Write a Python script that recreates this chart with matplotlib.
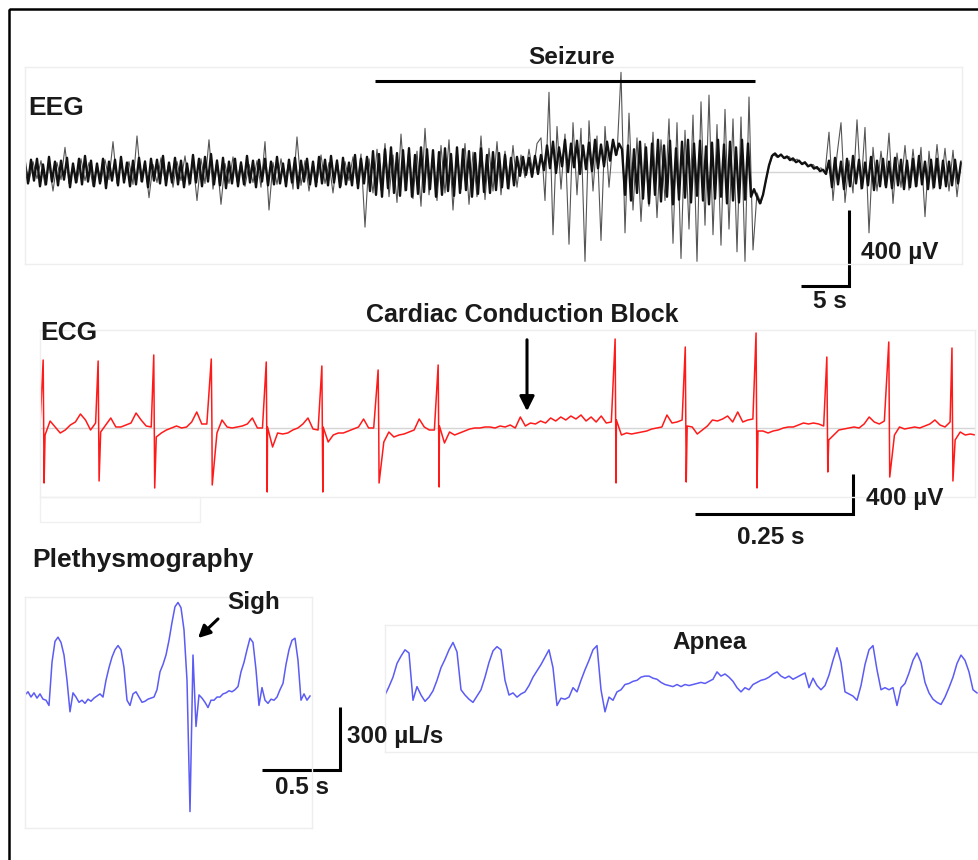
import numpy as np
import matplotlib.pyplot as plt
from matplotlib.patches import Rectangle

W, H = 979, 860
plt.rcParams['font.family'] = ['Liberation Sans', 'DejaVu Sans']

# ---- EEG, uV: large excursions, one vertex every 5/12 s ----
eeg_dt = 5 / 12
eeg_uv = [
    40, -50, 55, -35, 60, -70, 45, -100, 50, -40,
    130, -60, 35, -55, 70, -45, 50, -75, 40, -50,
    65, -40, 160, -60, 45, -35, 55, -65, 190, -50,
    60, -135, 40, -55, 75, -40, 50, -80, 55, -45,
    85, -70, 60, -150, 70, -60, 170, -90, 65, -170,
    45, -60, 80, -50, 55, -75, 40, -55, 60, -80,
    160, -200, 50, -65, 70, -45, 55, -90, 185, -70,
    60, -100, 45, -55, 90, -60, 50, -110, 65, -75,
    55, -45, 80, -60, 95, -290, 70,
    -110, 120, -95, 150, -130, 90, -160, 200, -100, 130,
    -140, 110, -180, 230, -120, 95, -150, 140, -110, 170,
    -200, 120, -90, 150, -170, 105, -130, 190, -145, 125,
    -100, 160, -120, 110, -90, 140, -80,
    90, -30, 120, -10, 150,
    180, -150, 420, -330, 240, -90, 200, -380, 260, -120,
    230, -470, 270, -100, 190, -360, 240, -80, 170, 90, 525,
    -320, 310, -200, 180, -260, 150, -180, 210, -240, 170,
    -150, 280, -375, 260, -455, 220, -300, 300, -470, 370,
    -280, 405, -330, 250, -385, 330, -300, 280, -420, 290,
    -470, 395, -410,
    -110, -165, -70, 30, 95, 78, 92, 70, 82, 58,
    68, 45, 55, 30, 40, 15, 22, -5,
    210, -150, 90, 260, -160, 60, -110, 275, -90, 235,
    -320, 130, -100, 110, -70, 205, -165, 100, -80, 140,
    -95, 120, -75, 130, -235, 110, -90, 145, -70, 125,
    -100, 115, -130, 60,
]
# ---- EEG, uV: dense core of the band, one vertex every 5/16 s ----
eeg_core_dt = 5 / 16
eeg_core = [
    50, -60, 65, -45, 70, -75, 40, -65, 80, -50, 55, -70, 60, -40, 75, -80, 45, -55, 70, -65,
    85, -50, 60, -75, 45, -60, 70, -85, 55, -45, 65, -70, 80, -55, 50, -75, 60, -65, 75, -50,
    55, -80, 70, -45, 65, -60, 85, -70, 50, -55, 75, -65, 60, -80, 45, -60, 90, -55, 70, -75,
    80, -50, 95, -65, 60, -70, 75, -85, 55, -60, 70, -75, 50, -65, 85, -55, 60, -80, 65, -50,
    70, -70, 55, -65, 80, -60, 45, -75, 65, -55, 75, -85, 60, -50, 70, -65, 55, -75, 80, -60,
    65, -70, 85, -55, 60, -80, 75, -65, 50, -70, 90, -85, 70, -60, 80,
    -100, 110, -120, 95, -130, 120, -85, 130, -110, 100, -125, 115, -95, 125, -130, 90, -115, 130, -105, 120,
    -90, 115, -130, 105, -120, 125, -100, 95, -125, 130, -110, 120, -95, 110, -130, 100, -115, 125, -105, 90,
    -110, 105, -95, 100, -80, 90, -85, 75, -70, 80,
    -20, 80, -15, 75, -25, 85, -10, 90,
    10, 140, 20, 160, -5, 130, 30, 170, 0, 150, 25, 165, -10, 140, 15, 155, 5, 170, 20, 145,
    30, 160, 60, 170, 90, 150, 120,
    -120, 140, -150, 120, -110, 160, -140, 130, -165, 150, -120, 170, -155, 140, -130, 165, -170, 125, -145, 160,
    -135, 170, -160, 150, -125, 165, -150, 135, -170, 155, -140, 170, -130, 145, -165, 160, -150, 130, -160, 170,
    -145, 150, -130,
    -90, -130, -165, -120, -40, 35, 85, 98, 80, 92, 74, 82, 63, 72, 52, 60, 42, 50, 30, 38,
    18, 26, 5, 12, -10,
    60, -80, 75, -65, 55, -90, 70, -75, 85, -60, 65, -85, 50, -70, 80, -95, 60, -75, 70, -80,
    55, -85, 75, -70, 65, -90, 60, -80, 70, -75, 85, -65, 55, -90, 65, -80, 70, -85, 60, -75,
    55, -70, 65, -60, 50,
]
seizure_start, seizure_end = 36.5, 76.0   # s

# ---- ECG, uV, baseline sampled every 8 ms plus R spikes ----
ecg_dt = 0.008
ecg_uv = [
    30, -70, 70, 10, -50, -20, 30, 60, 140, 80, -20, 50,
    -40, 30, 100, 10, 10, 30, 50, 150, 80, 20, 10,
    -90, -50, -20, 0, 20, 0, 10, 60, 160, 40, 40, 50,
    -50, 80, 10, 0, 10, 20, 40, 100, 0, 0, 10,
    -190, -50, -60, -50, -20, 0, 40, 100, -10, -20, 10,
    -140, -70, -50, -50, -30, -10, 10, 90, 0, 0, -20,
    -140, -40, -90, -70, -60, -40, -20, 90, 10, -20, -20, 20,
    -150, -40, -70, -50, -30, -10, 0, 0, 10, 10, 0, 20, 10, 30, 0,
    110, 20, 50, 40, 70, 50, 100, 70, 110, 80, 120, 90, 130, 70, 110, 60, 120, 50, 60, 80,
    -70, -50, -60, -50, -40, -30, -10, 0, 10, 130, 50, 60, 80,
    20, 10, -60, -20, 20, 80, 70, 90, 120, 60, 160, 60, 80, 90,
    -30, -30, -50, -30, -20, 0, 10, 10, 30, 50, 40, 50, 40, 20,
    -120, -70, -20, -10, 0, 10, 0, 40, 110, 60, 40, 70,
    -30, -70, 10, -10, 0, 10, 0, 20, 40, 80, 30, 10, 60,
    -120, -40, -70, -60, -70,
]
beat_t = [0.005, 0.092, 0.180, 0.271, 0.358, 0.446, 0.535, 0.630,
          0.910, 1.021, 1.133, 1.245, 1.343, 1.443]
beat_top = [680, 670, 730, 690, 660, 620, 580, 630, 890, 810, 950, 710, 860, 800]
beat_bottom = [-550, -530, -600, -570, -640, -640, -550, -590,
               -550, -540, -600, -440, -490, -530]

# ---- Plethysmography, uL/s ----
pleth_left_dt = 0.0192
pleth_left = [
    0, 15, -10, 10, -15, 5, -20, -25, -50, 155,
    255, 275, 250, 190, 70, -80, 10, -10, -35, -25,
    -40, -20, -30, -15, -5, 5, -10, 70, 130, 180,
    215, 235, 215, 130, -25, -50, 5, 15, -10, -35,
    -30, -20, -15, -10, 25, 110, 145, 190, 260, 345,
    420, 440, 415, 310, 70, -555, 190, -150, 0, -15,
    -35, -60, -25, -25, -10, -10, 5, 10, 20, 15,
    25, 40, 110, 155, 215, 270, 250, 120, -50, 35,
    -25, -40, -20, -25, -10, 25, 55, 145, 215, 260,
    270, 165, -25, 5, -25, -5,
]
pleth_right_dt = 0.0256
pleth_right = [
    0, 40, 85, 150, 185, 215, 200, -25, 40, 0,
    -30, -10, 20, 70, 130, 170, 215, 250, 205, 25,
    0, -20, -35, -5, 25, 85, 155, 210, 230, 215,
    70, 0, 10, -10, 5, 15, 45, 85, 115, 145,
    180, 215, 130, -50, -15, -20, -10, 35, 15, 70,
    120, 165, 215, 235, 25, -80, -10, -25, 15, 25,
    50, 55, 65, 70, 85, 90, 90, 80, 75, 60,
    50, 45, 40, 50, 40, 50, 45, 50, 55, 60,
    55, 65, 75, 110, 90, 100, 85, 65, 35, 15,
    35, 25, 50, 60, 70, 75, 85, 100, 110, 90,
    80, 90, 75, 85, 95, 105, 35, 80, 45, 25,
    45, 95, 165, 225, 155, 15, 5, -5, -25, 45,
    145, 215, 235, 120, 25, 35, 25, 35, -50, 35,
    55, 105, 165, 200, 155, 60, 10, -20, -35, -45,
    -10, 35, 85, 150, 190, 165, 110, 25, 10,
]

fig = plt.figure(figsize=(W / 100, H / 100), dpi=100)


def px_axes(x0, y0, x1, y1):
    ax = fig.add_axes([x0 / W, 1 - y1 / H, (x1 - x0) / W, (y1 - y0) / H])
    ax.set_facecolor('none')
    ax.set_xticks([])
    ax.set_yticks([])
    for s in ax.spines.values():
        s.set_color('#eeeeee')
        s.set_linewidth(1)
    return ax


def scalebar(ax, t, v, dx, dy):
    ax.plot([t - dx, t, t], [v, v, v + dy], color='k', lw=2.2,
            clip_on=False, solid_joinstyle='miter', solid_capstyle='butt')


# EEG
ax = px_axes(25, 67, 962, 264)
ax.axhline(0, color='#d5d5d5', lw=1, zorder=0)
ax.plot(np.arange(len(eeg_uv)) * eeg_dt, eeg_uv, color='#555555', lw=0.8)
ax.plot(np.arange(len(eeg_core)) * eeg_core_dt, eeg_core, color='#111111', lw=1.7)
ax.plot([seizure_start, seizure_end], [479, 479], color='k', lw=2.2,
        clip_on=False, solid_capstyle='butt')
ax.set_xlim(0, 937 / 9.6)
ax.set_ylim(-484, 553)
scalebar(ax, 85.83, -600, 5, 400)

# ECG
ax = px_axes(40, 330, 975, 497)
tb = np.arange(len(ecg_uv)) * ecg_dt
tt = np.concatenate([tb, beat_t, np.array(beat_t) + 0.0015])
vv = np.concatenate([ecg_uv, beat_top, beat_bottom])
order = np.argsort(tt, kind='stable')
ax.axhline(0, color='#d5d5d5', lw=1)
ax.plot(tt[order], vv[order], color='#ff1a1a', lw=1.1)
ax.set_xlim(0, 935 / 632)
ax.set_ylim(-690, 980)
scalebar(ax, 1.2864, -860, 0.25, 400)

# Plethysmography left
ax = px_axes(25, 597, 312, 828)
ax.plot(np.arange(len(pleth_left)) * pleth_left_dt, pleth_left,
        color='#5b5bf5', lw=1.1)
ax.set_xlim(0, 287 / 156.25)
ax.set_ylim(-633, 466)
scalebar(ax, 2.016, -357, 0.5, 300)

# Plethysmography right
ax = px_axes(385, 625, 985, 752)
ax.plot(np.arange(len(pleth_right)) * pleth_right_dt, pleth_right,
        color='#5b5bf5', lw=1.1)
ax.set_xlim(0, 600 / 156.25)
ax.set_ylim(-271, 333)

# overlay for labels
ov = fig.add_axes([0, 0, 1, 1])
ov.set_xlim(0, W)
ov.set_ylim(H, 0)
ov.axis('off')
ov.add_patch(Rectangle((9, 9), 1100, 1000, fill=False, ec='k', lw=1.8))
ov.add_patch(Rectangle((40, 497), 160, 25, fill=False, ec='#f0f0f0', lw=1))

txt = dict(weight='bold', color='#1a1a1a', va='center')
ov.text(28, 108, 'EEG', ha='left', fontsize=19, **txt)
ov.text(572, 57, 'Seizure', ha='center', fontsize=17.5, **txt)
ov.text(861, 253, '400 µV', ha='left', fontsize=17.5, **txt)
ov.text(830, 302, '5 s', ha='center', fontsize=17.5, **txt)
ov.text(40, 333, 'ECG', ha='left', fontsize=19, **txt)
ov.text(522, 315, 'Cardiac Conduction Block', ha='center', fontsize=18, **txt)
ov.text(866, 499, '400 µV', ha='left', fontsize=17.5, **txt)
ov.text(771, 538, '0.25 s', ha='center', fontsize=17.5, **txt)
ov.text(32, 560, 'Plethysmography', ha='left', fontsize=19, **txt)
ov.text(254, 603, 'Sigh', ha='center', fontsize=17.5, **txt)
ov.text(347, 737, '300 µL/s', ha='left', fontsize=17.5, **txt)
ov.text(302, 788, '0.5 s', ha='center', fontsize=17.5, **txt)
ov.text(710, 642, 'Apnea', ha='center', fontsize=17.5, **txt)

ov.annotate('', xy=(527, 414), xytext=(527, 337),
            arrowprops=dict(arrowstyle='-|>', color='k', lw=2.2, mutation_scale=22))
ov.annotate('', xy=(196, 640), xytext=(220, 617),
            arrowprops=dict(arrowstyle='-|>', color='k', lw=2.2, mutation_scale=18))

fig.savefig('out.png', dpi=100)
